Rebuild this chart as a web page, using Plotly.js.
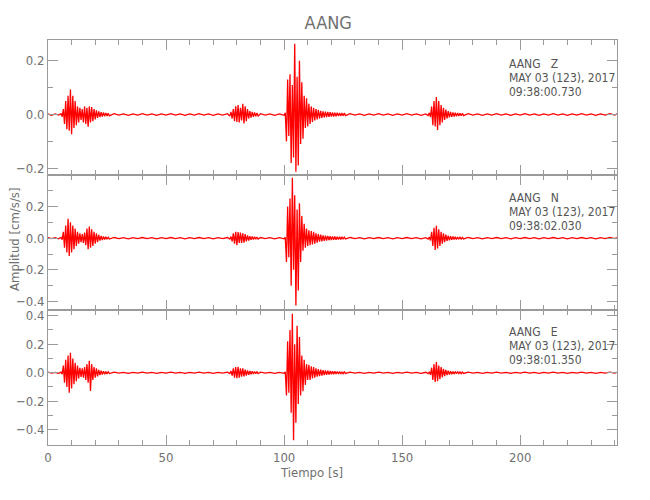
<!DOCTYPE html>
<html>
<head>
<meta charset="utf-8">
<script src="https://cdn.plot.ly/plotly-3.0.1.min.js"></script>
<style>html,body{margin:0;padding:0;background:#fff;}#chart{width:650px;height:500px;}</style>
</head>
<body>
<div id="chart"></div>
<script>
// Time samples (s), shared by the three components
const timeS = [
0,1.5,3,4.5,5.5,
6,6.5,7,7.5,8,8.5,9,9.5,10,10.5,11,11.5,12,12.5,13,13.5,14,14.5,15,15.5,16,16.5,17,17.5,18,18.5,19,19.5,20,20.5,21,21.5,22,22.5,23,23.5,24,24.5,25,25.5,26,
28,30,32,34,36,38,40,42,44,46,48,50,52,54,56,58,60,62,64,66,68,70,72,74,76,
77,77.5,78,78.5,79,79.5,80,80.5,81,81.5,82,82.5,83,83.5,84,84.5,85,85.5,86,86.5,87,87.5,88,88.5,89,
90,92,94,96,98,100,
100.5,101,101.5,102,102.5,103,103.5,104,104.5,105,105.5,106,106.5,107,107.5,108,108.5,109,109.5,110,110.5,111,111.5,112,112.5,113,113.5,114,114.5,115,115.5,116,116.5,117,117.5,118,118.5,119,119.5,120,120.5,121,121.5,122,122.5,123,123.5,124,124.5,125,125.5,126,
128,130,132,134,136,138,140,142,144,146,148,150,152,154,156,158,160,
161,161.5,162,162.5,163,163.5,164,164.5,165,165.5,166,166.5,167,167.5,168,168.5,169,169.5,170,170.5,171,171.5,172,172.5,173,173.5,174,174.5,175,175.5,176,
178,180,182,184,186,188,190,192,194,196,198,200,202,204,206,208,210,212,214,216,218,220,222,224,226,228,230,232,234,236,238,240,241
];

// Vertical component Z (cm/s/s)
const ampZ = [
0.002,-0.003,0.002,-0.002,0.003,
-0.008,0.02,-0.035,0.05,-0.055,0.07,-0.06,0.093,-0.073,0.07,
-0.05,0.05,-0.04,0.03,-0.03,0.025,-0.02,0.02,-0.03,0.03,
-0.035,0.025,-0.045,0.03,-0.03,0.028,-0.025,0.02,-0.018,0.015,
-0.013,0.012,-0.01,0.009,-0.008,0.008,-0.007,0.006,-0.006,0.005,
-0.005,
0.003,-0.002,0.002,-0.003,0.002,-0.002,0.003,-0.002,0.002,-0.003,
0.002,-0.002,0.003,-0.002,0.002,-0.003,0.002,-0.002,0.003,-0.002,
0.002,-0.003,0.002,-0.002,0.003,
-0.006,0.01,-0.015,0.02,-0.025,0.03,-0.028,0.035,-0.03,0.025,
-0.022,0.04,-0.033,0.03,-0.025,0.02,-0.015,0.013,-0.012,0.01,
-0.009,0.008,-0.007,0.006,-0.006,
0.003,-0.002,0.002,-0.003,0.002,-0.003,
0.006,-0.10,0.13,-0.08,0.15,-0.18,0.11,-0.16,0.263,-0.213,
0.14,-0.19,0.2,-0.11,0.12,-0.09,0.07,-0.05,0.06,-0.045,
0.04,-0.035,0.03,-0.028,0.025,-0.022,0.02,-0.018,0.017,-0.015,
0.014,-0.013,0.012,-0.011,0.011,-0.01,0.01,-0.009,0.009,-0.008,
0.008,-0.008,0.007,-0.007,0.007,-0.006,0.006,-0.006,0.006,-0.005,
0.005,-0.004,
0.003,-0.002,0.002,-0.003,0.002,-0.002,0.003,-0.002,0.002,-0.003,
0.002,-0.002,0.003,-0.002,0.002,-0.003,0.002,
-0.004,0.006,-0.01,0.03,-0.04,0.05,-0.045,0.065,-0.058,0.05,
-0.04,0.035,-0.03,0.025,-0.02,0.018,-0.015,0.013,-0.011,0.01,
-0.009,0.008,-0.008,0.007,-0.007,0.006,-0.006,0.005,-0.005,0.004,
-0.004,
0.003,-0.002,0.002,-0.003,0.002,-0.002,0.003,-0.002,0.002,-0.003,
0.002,-0.002,0.003,-0.002,0.002,-0.003,0.002,-0.002,0.003,-0.002,
0.002,-0.003,0.002,-0.002,0.003,-0.002,0.002,-0.003,0.002,-0.002,
0.003,-0.002,0.002
];

// North component N (cm/s/s)
const ampN = [
0.004,-0.003,0.003,-0.004,0.004,
-0.01,0.04,-0.06,0.08,-0.09,0.122,-0.112,0.1,-0.09,0.08,
-0.07,0.06,-0.05,0.04,-0.035,0.03,-0.025,0.025,-0.03,0.035,
-0.045,0.06,-0.07,0.073,-0.06,0.055,-0.05,0.04,-0.035,0.03,
-0.025,0.02,-0.016,0.014,-0.012,0.01,-0.009,0.008,-0.007,0.006,
-0.006,
0.004,-0.003,0.003,-0.004,0.003,-0.003,0.004,-0.003,0.003,-0.004,
0.003,-0.003,0.004,-0.003,0.003,-0.004,0.003,-0.003,0.004,-0.003,
0.003,-0.004,0.003,-0.003,0.004,
-0.006,0.01,-0.02,0.03,-0.035,0.04,-0.045,0.038,-0.03,0.035,
-0.03,0.03,-0.028,0.025,-0.02,0.018,-0.015,0.013,-0.011,0.01,
-0.009,0.008,-0.007,0.007,-0.006,
0.004,-0.003,0.003,-0.004,0.003,-0.004,
0.006,-0.15,0.2,-0.12,0.25,-0.3,0.38,-0.2,0.27,-0.425,
0.18,-0.33,0.22,-0.15,0.14,-0.08,0.09,-0.06,0.06,-0.05,
0.05,-0.045,0.045,-0.04,0.04,-0.035,0.03,-0.028,0.025,-0.022,
0.022,-0.02,0.018,-0.017,0.016,-0.015,0.014,-0.013,0.012,-0.012,
0.011,-0.01,0.01,-0.01,0.009,-0.009,0.008,-0.008,0.008,-0.007,
0.006,-0.005,
0.004,-0.003,0.003,-0.004,0.003,-0.003,0.004,-0.003,0.003,-0.004,
0.003,-0.003,0.004,-0.003,0.003,-0.004,0.003,
-0.006,0.007,-0.015,0.04,-0.05,0.065,-0.074,0.078,-0.065,0.055,
-0.05,0.04,-0.035,0.03,-0.025,0.022,-0.018,0.016,-0.014,0.012,
-0.011,0.01,-0.009,0.008,-0.008,0.007,-0.007,0.006,-0.006,0.005,
-0.005,
0.004,-0.003,0.003,-0.004,0.003,-0.003,0.004,-0.003,0.003,-0.004,
0.003,-0.003,0.004,-0.003,0.003,-0.004,0.003,-0.003,0.004,-0.003,
0.003,-0.004,0.003,-0.003,0.004,-0.003,0.003,-0.004,0.003,-0.003,
0.004,-0.003,0.003
];

// East component E (cm/s/s)
const ampE = [
0.004,-0.003,0.003,-0.004,0.004,
-0.01,0.05,-0.07,0.09,-0.1,0.12,-0.14,0.14,-0.11,0.1,
-0.08,0.07,-0.06,0.05,-0.04,0.035,-0.03,0.03,-0.035,0.04,
-0.05,0.06,-0.07,0.084,-0.128,0.06,-0.05,0.04,-0.035,0.03,
-0.025,0.02,-0.017,0.015,-0.013,0.011,-0.01,0.009,-0.008,0.007,
-0.006,
0.004,-0.003,0.003,-0.004,0.003,-0.003,0.004,-0.003,0.003,-0.004,
0.003,-0.003,0.004,-0.003,0.003,-0.004,0.003,-0.003,0.004,-0.003,
0.003,-0.004,0.003,-0.003,0.004,
-0.006,0.012,-0.02,0.03,-0.035,0.04,-0.038,0.042,-0.035,0.03,
-0.028,0.03,-0.025,0.022,-0.02,0.017,-0.014,0.012,-0.011,0.01,
-0.009,0.008,-0.007,0.007,-0.006,
0.004,-0.003,0.003,-0.004,0.003,-0.004,
0.006,-0.16,0.22,-0.14,0.3,-0.28,0.414,-0.474,0.2,-0.35,
0.33,-0.22,0.25,-0.16,0.12,-0.13,0.09,-0.085,0.06,-0.05,
0.055,-0.05,0.045,-0.04,0.04,-0.035,0.03,-0.028,0.026,-0.024,
0.022,-0.02,0.018,-0.017,0.016,-0.015,0.014,-0.013,0.012,-0.011,
0.011,-0.01,0.01,-0.009,0.009,-0.008,0.008,-0.008,0.007,-0.007,
0.006,-0.005,
0.004,-0.003,0.003,-0.004,0.003,-0.003,0.004,-0.003,0.003,-0.004,
0.003,-0.003,0.004,-0.003,0.003,-0.004,0.003,
-0.006,0.007,-0.015,0.035,-0.05,0.06,-0.065,0.075,-0.06,0.05,
-0.045,0.04,-0.032,0.028,-0.024,0.02,-0.017,0.015,-0.013,0.011,
-0.01,0.009,-0.009,0.008,-0.007,0.007,-0.006,0.006,-0.006,0.005,
-0.005,
0.004,-0.003,0.003,-0.004,0.003,-0.003,0.004,-0.003,0.003,-0.004,
0.003,-0.003,0.004,-0.003,0.003,-0.004,0.003,-0.003,0.004,-0.003,
0.003,-0.004,0.003,-0.003,0.004,-0.003,0.003,-0.004,0.003,-0.003,
0.004,-0.003,0.003
];

const stationName = "AANG";
const channelLabels = ["AANG   Z", "AANG   N", "AANG   E"];
const dateLabel = "MAY 03 (123), 2017";
const startTimes = ["09:38:00.730", "09:38:02.030", "09:38:01.350"];
const xTitle = "Tiempo [s]";
const yTitle = "Amplitud [cm/s/s]";

if (ampZ.length !== timeS.length || ampN.length !== timeS.length || ampE.length !== timeS.length) {
  throw new Error("length mismatch T=" + timeS.length + " Z=" + ampZ.length + " N=" + ampN.length + " E=" + ampE.length);
}

const FONT = '"Liberation Sans Narrow","DejaVu Sans Condensed","Roboto Condensed","Liberation Sans",sans-serif';
const AX = '#9a9a9a';
const TXT = '#707070';

function xAx(extra) {
  return Object.assign({
    range: [0, 241], tick0: 0, dtick: 50, showline: true, linecolor: AX, linewidth: 1,
    mirror: 'allticks', ticks: 'inside', ticklen: 10, tickcolor: AX, tickwidth: 1,
    showgrid: false, zeroline: false,
    tickfont: {family: FONT, size: 13, color: TXT},
    minor: {ticks: 'inside', ticklen: 5, dtick: 10, tick0: 0, tickcolor: AX, showgrid: false}
  }, extra);
}
function yAx(domain, range, extra) {
  return Object.assign({
    domain: domain, range: range, tick0: 0, dtick: 0.2, tickformat: '.1f',
    showline: true, linecolor: AX, linewidth: 1, mirror: 'allticks',
    ticks: 'inside', ticklen: 10, tickcolor: AX, tickwidth: 1,
    showgrid: false, zeroline: false,
    tickfont: {family: FONT, size: 13, color: TXT},
    minor: {ticks: 'inside', ticklen: 5, dtick: 0.1, tick0: 0, tickcolor: AX, showgrid: false}
  }, extra || {});
}

function trace(y, xa, ya) {
  return {x: timeS, y: y, type: 'scatter', mode: 'lines', xaxis: xa, yaxis: ya,
          line: {color: '#ff0000', width: 1.3}, hoverinfo: 'skip'};
}
const data = [trace(ampE, 'x', 'y'), trace(ampN, 'x2', 'y2'), trace(ampZ, 'x3', 'y3')];

const annotations = [];
const panelTopsPx = [55, 189, 323];
for (let i = 0; i < 3; i++) {
  const lines = [channelLabels[i], dateLabel, startTimes[i]];
  for (let j = 0; j < 3; j++) {
    annotations.push({
      xref: 'paper', yref: 'paper', x: (507 - 48) / 569, y: (445 - (panelTopsPx[i] + j * 14)) / 405,
      xanchor: 'left', yanchor: 'top', showarrow: false, text: lines[j],
      font: {family: FONT, size: 12, color: '#555'}
    });
  }
}
annotations.push({
  xref: 'paper', yref: 'paper', x: (311 - 48) / 569, y: (445 - 472) / 405,
  xanchor: 'center', yanchor: 'middle', showarrow: false, text: xTitle,
  font: {family: FONT, size: 13, color: TXT}
});
annotations.push({
  xref: 'paper', yref: 'paper', x: (14 - 48) / 569, y: (445 - 240) / 405,
  xanchor: 'center', yanchor: 'middle', showarrow: false, text: yTitle, textangle: -90,
  font: {family: FONT, size: 13, color: TXT}
});

const layout = {
  width: 650, height: 500,
  margin: {l: 48, r: 33, t: 40, b: 55},
  paper_bgcolor: '#fff', plot_bgcolor: '#fff',
  showlegend: false,
  title: {text: stationName, x: 0.505, xanchor: 'center', y: 0.955, yanchor: 'middle',
          font: {family: FONT, size: 18, color: TXT}},
  xaxis: xAx({anchor: 'y'}),
  xaxis2: xAx({anchor: 'y2', matches: 'x', showticklabels: false}),
  xaxis3: xAx({anchor: 'y3', matches: 'x', showticklabels: false}),
  yaxis: yAx([0, 1/3], [-0.507, 0.44]),
  yaxis2: yAx([1/3, 2/3], [-0.453, 0.398]),
  yaxis3: yAx([2/3, 1], [-0.225, 0.277]),
  annotations: annotations
};

Plotly.newPlot('chart', data, layout, {staticPlot: true, displayModeBar: false});
</script>
</body>
</html>
